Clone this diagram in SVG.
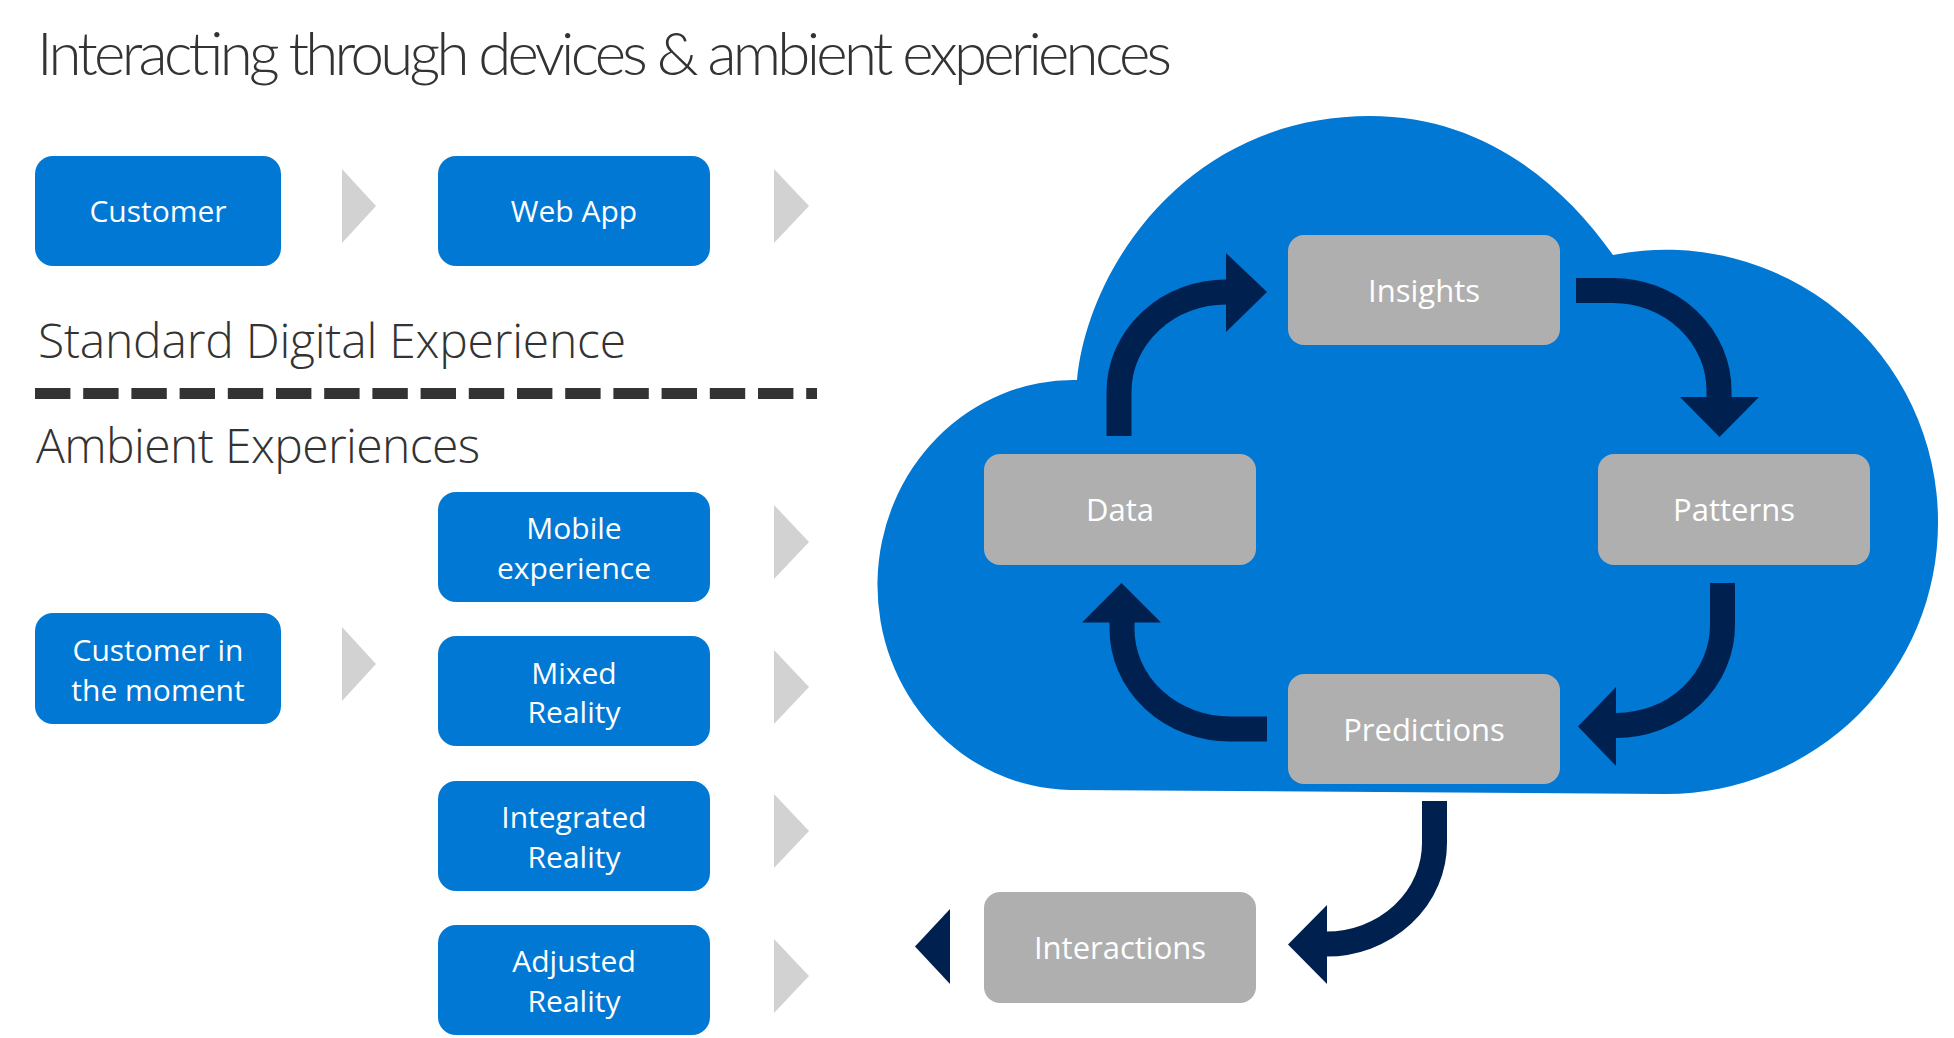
<svg xmlns="http://www.w3.org/2000/svg" width="1954" height="1038" viewBox="0 0 1954 1038">
<style>
.bbox{fill:#0078D4}
.gbox{fill:#AFAFAF}
.btxt{font-family:"Open Sans","Liberation Sans",sans-serif;font-size:30px;fill:#fff;text-anchor:middle}
.gtxt{font-family:"Open Sans","Liberation Sans",sans-serif;font-size:31px;font-weight:400;fill:#fff;text-anchor:middle}
.head{font-family:"Open Sans","Liberation Sans",sans-serif;fill:#333}
.chev{fill:#D2D2D2}
.band{fill:none;stroke:#002050;stroke-width:25}
.head-n{fill:#002050}
</style>
<rect width="1954" height="1038" fill="#fff"/>
<path id="cloud" d="M 1070 790 A 196 205 0 0 1 1077 380 C 1088 265 1190 116 1370 116 C 1480 116 1560 180 1613 255 A 272 272 0 0 1 1938 523 A 272 271 0 0 1 1666 794 Z" fill="#0078D4"/>
<text x="37" y="75" font-family="Lato, 'Open Sans', sans-serif" font-size="60" font-weight="300" fill="#333" textLength="1135">Interacting through devices &amp; ambient experiences</text>
<text class="head" x="38" y="358" font-size="48" font-weight="300" textLength="588">Standard Digital Experience</text>
<text class="head" x="36" y="463" font-size="48" font-weight="300" textLength="444">Ambient Experiences</text>
<line x1="35" y1="393.5" x2="817" y2="393.5" stroke="#333" stroke-width="11" stroke-dasharray="35.4 12.8"/>
<g id="connectors">
<polygon class="chev" points="342,169 376,206 342,243"/>
<polygon class="chev" points="774,169 809,206 774,243"/>
<polygon class="chev" points="342,627 376,664 342,701"/>
<polygon class="chev" points="774,505 809,542 774,579"/>
<polygon class="chev" points="774,650 809,687 774,724"/>
<polygon class="chev" points="774,794 809,831 774,868"/>
<polygon class="chev" points="774,939 809,976 774,1013"/>
<path class="band" d="M 1119 436 V 392 A 107 100 0 0 1 1226 292"/>
<polygon class="head-n" points="1226,253 1267,292 1226,332"/>
<path class="band" d="M 1576 290.5 H 1613 A 106 100 0 0 1 1719 390.5 V 398"/>
<polygon class="head-n" points="1680,397 1759,397 1719.5,437"/>
<path class="band" d="M 1722.5 583 V 625 A 106 100.5 0 0 1 1616 725.5"/>
<polygon class="head-n" points="1616,687 1616,766 1578,726.5"/>
<path class="band" d="M 1267 729 H 1230 A 108 100 0 0 1 1122 629 V 622"/>
<polygon class="head-n" points="1082,622.5 1161,622.5 1121.5,583"/>
<path class="band" d="M 1434.5 801 V 843 A 108 101 0 0 1 1326.5 944"/>
<polygon class="head-n" points="1327,905 1327,984 1288,944.5"/>
<polygon class="head-n" points="950,909 950,984 915,946.5"/>
</g>
<g id="customer"><rect class="bbox" x="35" y="156" width="246" height="110" rx="18"/><text class="btxt" x="158" y="222">Customer</text></g>
<g id="webapp"><rect class="bbox" x="438" y="156" width="272" height="110" rx="18"/><text class="btxt" x="574" y="222">Web App</text></g>
<g id="customer-moment"><rect class="bbox" x="35" y="613" width="246" height="111" rx="18"/><text class="btxt" x="158" y="661">Customer in</text><text class="btxt" x="158" y="701">the moment</text></g>
<g id="mobile"><rect class="bbox" x="438" y="492" width="272" height="110" rx="18"/><text class="btxt" x="574" y="539">Mobile</text><text class="btxt" x="574" y="579">experience</text></g>
<g id="mixed"><rect class="bbox" x="438" y="636" width="272" height="110" rx="18"/><text class="btxt" x="574" y="684">Mixed</text><text class="btxt" x="574" y="723">Reality</text></g>
<g id="integrated"><rect class="bbox" x="438" y="781" width="272" height="110" rx="18"/><text class="btxt" x="574" y="828">Integrated</text><text class="btxt" x="574" y="868">Reality</text></g>
<g id="adjusted"><rect class="bbox" x="438" y="925" width="272" height="110" rx="18"/><text class="btxt" x="574" y="972">Adjusted</text><text class="btxt" x="574" y="1012">Reality</text></g>
<g id="insights"><rect class="gbox" x="1288" y="235" width="272" height="110" rx="16"/><text class="gtxt" x="1424" y="302">Insights</text></g>
<g id="data"><rect class="gbox" x="984" y="454" width="272" height="111" rx="16"/><text class="gtxt" x="1120" y="521">Data</text></g>
<g id="patterns"><rect class="gbox" x="1598" y="454" width="272" height="111" rx="16"/><text class="gtxt" x="1734" y="521">Patterns</text></g>
<g id="predictions"><rect class="gbox" x="1288" y="674" width="272" height="110" rx="16"/><text class="gtxt" x="1424" y="741">Predictions</text></g>
<g id="interactions"><rect class="gbox" x="984" y="892" width="272" height="111" rx="16"/><text class="gtxt" x="1120" y="959">Interactions</text></g>
</svg>
